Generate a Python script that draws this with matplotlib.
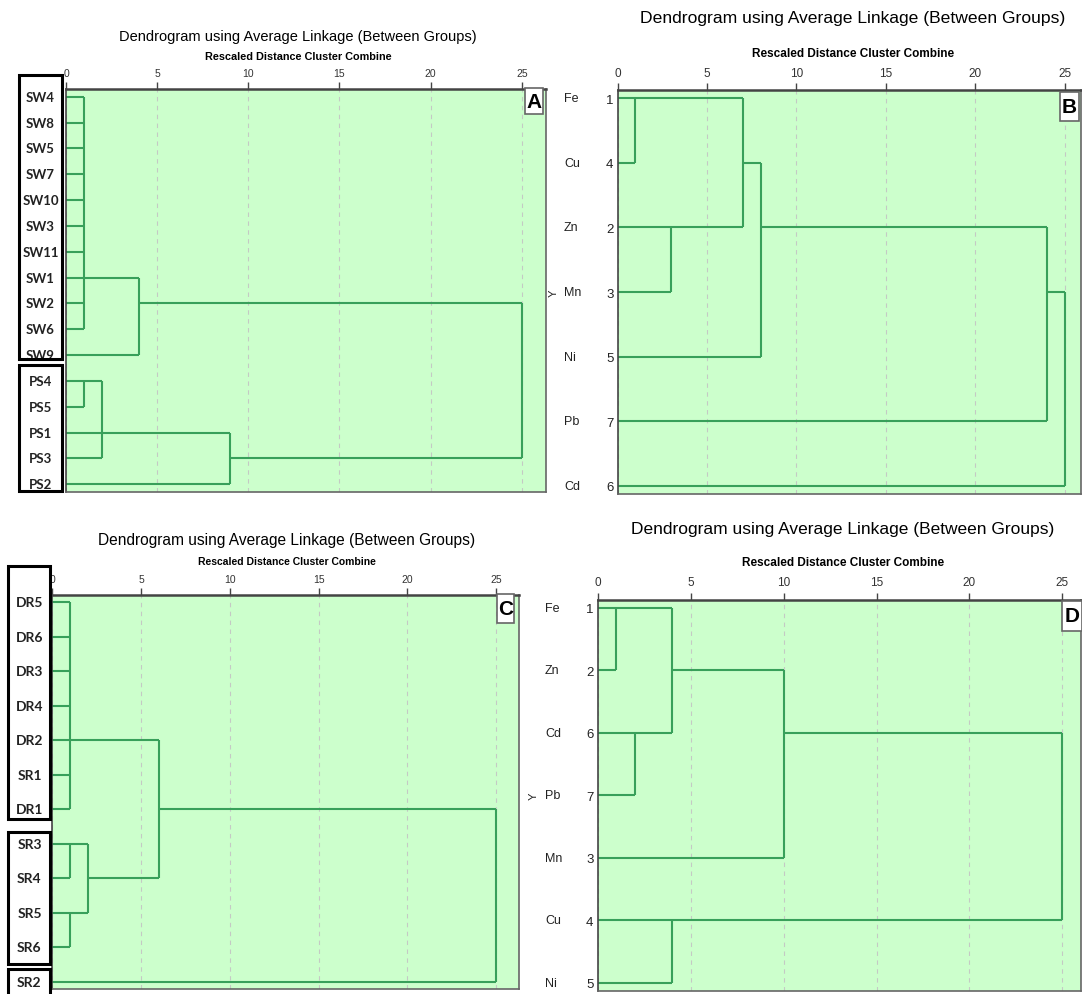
import matplotlib.pyplot as plt
from matplotlib.patches import Rectangle
from matplotlib.transforms import blended_transform_factory

W, H = 1082, 995
BG = '#ccffcc'
LINE = '#38a05a'
NARROW = ['Liberation Sans Narrow', 'Liberation Sans', 'DejaVu Sans']
SANS = ['Liberation Sans', 'DejaVu Sans']

ticks = [0, 5, 10, 15, 20, 25]
title = 'Dendrogram using Average Linkage (Between Groups)'
subtitle = 'Rescaled Distance Cluster Combine'

# panel A - samples SW / PS
a_leaves = ['SW4', 'SW8', 'SW5', 'SW7', 'SW10', 'SW3', 'SW11', 'SW1', 'SW2', 'SW6', 'SW9',
            'PS4', 'PS5', 'PS1', 'PS3', 'PS2']
a_children = [[0, 1, 2, 3, 4, 5, 6, 7, 8, 9], [16, 10], [11, 12], [18, 13, 14], [19, 15], [17, 20]]
a_dist = [1, 4, 1, 2, 9, 25]
a_outrow = [7, 8, 11, 13, 14, 11]

# panel B - metals
b_names = ['Fe', 'Cu', 'Zn', 'Mn', 'Ni', 'Pb', 'Cd']
b_nums = ['1', '4', '2', '3', '5', '7', '6']
b_children = [[0, 1], [2, 3], [7, 8], [9, 4], [10, 5], [11, 6]]
b_dist = [1, 3, 7, 8, 24, 25]
b_outrow = [0, 2, 1, 2, 3, 3]

# panel C - samples DR / SR
c_leaves = ['DR5', 'DR6', 'DR3', 'DR4', 'DR2', 'SR1', 'DR1', 'SR3', 'SR4', 'SR5', 'SR6', 'SR2']
c_children = [[0, 1, 2, 3, 4, 5, 6], [7, 8], [9, 10], [13, 14], [12, 15], [16, 11]]
c_dist = [1, 1, 1, 2, 6, 25]
c_outrow = [4, 7, 9, 8, 6, 6]

# panel D - metals
d_names = ['Fe', 'Zn', 'Cd', 'Pb', 'Mn', 'Cu', 'Ni']
d_nums = ['1', '2', '6', '7', '3', '4', '5']
d_children = [[0, 1], [2, 3], [7, 8], [9, 4], [5, 6], [10, 11]]
d_dist = [1, 2, 4, 10, 4, 25]
d_outrow = [0, 2, 1, 2, 5, 2]

fig = plt.figure(figsize=(W / 100, H / 100), dpi=100)


def fx(x):
    return x / W


def fy(y):
    return 1 - y / H


def px_axes(l, t, r, b):
    return fig.add_axes([fx(l), fy(b), (r - l) / W, (b - t) / H])


def fig_box(x0, y0, x1, y1, **kw):
    fig.add_artist(Rectangle((fx(x0), fy(y1)), (x1 - x0) / W, (y1 - y0) / H,
                             transform=fig.transFigure, **kw))


def draw_tree(ax, n, children, dist, outrow):
    h = [0.0] * n
    row = list(range(n))
    for ch, d, r in zip(children, dist, outrow):
        rows = [row[c] for c in ch]
        for c in ch:
            ax.hlines(row[c], h[c], d, color=LINE, lw=1.5)
        ax.vlines(d, min(rows), max(rows), color=LINE, lw=1.5)
        h.append(d)
        row.append(r)


def setup(ax, n, xmax, ypad_top, ypad_bot, tsize):
    ax.set_facecolor(BG)
    ax.set_xlim(0, xmax)
    ax.set_ylim(n - 1 + ypad_bot, -ypad_top)
    ax.set_xticks(ticks)
    ax.set_xticklabels([str(t) for t in ticks], family=NARROW)
    ax.tick_params(axis='x', top=True, labeltop=True, bottom=False, labelbottom=False,
                   direction='out', length=5, width=1, color='#444444', pad=3,
                   labelsize=tsize, labelcolor='#333333')
    ax.grid(axis='x', color='#c4c9c4', linestyle=(0, (4, 4)), lw=0.8)
    ax.set_axisbelow(True)
    for s in ax.spines.values():
        s.set_color('#666666')
        s.set_linewidth(1.2)
    ax.spines['top'].set_color('#444444')
    ax.spines['top'].set_linewidth(1.8)
    ax.spines['left'].set_color('#444444')


def heading(xc, yt, ts, ys, ss):
    fig.text(fx(xc), fy(yt), title, ha='center', va='center', fontsize=ts, family=SANS)
    fig.text(fx(xc), fy(ys), subtitle, ha='center', va='center', fontsize=ss,
             family=SANS, fontweight='bold')


def panel_letter(x0, y0, x1, y1, letter):
    fig_box(x0, y0, x1, y1, facecolor='white', edgecolor='#666666', lw=1.2, zorder=5)
    fig.text(fx((x0 + x1) / 2), fy((y0 + y1) / 2), letter, ha='center', va='center',
             fontsize=15, fontweight='bold', family=SANS, zorder=6)


# ---- A
axA = px_axes(66, 90, 546, 493)
setup(axA, len(a_leaves), 26.33, 0.3, 0.3, 7.5)
draw_tree(axA, len(a_leaves), a_children, a_dist, a_outrow)
axA.set_yticks([])
trA = blended_transform_factory(axA.transAxes, axA.transData)
for i, lab in enumerate(a_leaves):
    axA.text(-0.053, i, lab, transform=trA, ha='center', va='center',
             fontsize=9.5, fontweight='bold', family=['Lato', 'DejaVu Sans'], color='#222222')
heading(298, 37, 10.5, 57, 7.8)
fig_box(19, 76, 62, 360, fill=False, edgecolor='black', lw=2.2)
fig_box(19, 366, 62, 492, fill=False, edgecolor='black', lw=2.2)
panel_letter(525, 89, 543, 115, 'A')

# ---- B
axB = px_axes(617.5, 91, 1081, 495)
setup(axB, len(b_names), 25.9, 0.13, 0.13, 8.5)
draw_tree(axB, len(b_names), b_children, b_dist, b_outrow)
axB.set_yticks(range(len(b_nums)))
axB.set_yticklabels(b_nums, family=NARROW)
axB.tick_params(axis='y', length=0, pad=3, labelsize=9.5, labelcolor='#222222')
trB = blended_transform_factory(axB.transAxes, axB.transData)
for i, lab in enumerate(b_names):
    axB.text(-0.1154, i, lab, transform=trB, ha='left', va='center',
             fontsize=9, family=NARROW, color='#222222')
axB.text(-0.138, 0.5, 'Y', transform=axB.transAxes, rotation=90, ha='center', va='center',
         fontsize=8, family=SANS, color='#222222')
heading(853, 18, 12.6, 54, 8.5)
panel_letter(1060, 93, 1079, 122, 'B')

# ---- C
axC = px_axes(52.3, 596, 519.3, 990)
setup(axC, len(c_leaves), 26.3, 0.21, 0.21, 7.5)
draw_tree(axC, len(c_leaves), c_children, c_dist, c_outrow)
axC.set_yticks([])
trC = blended_transform_factory(axC.transAxes, axC.transData)
for i, lab in enumerate(c_leaves):
    axC.text(-0.049, i, lab, transform=trC, ha='center', va='center',
             fontsize=10, fontweight='bold', family=['Lato', 'DejaVu Sans'], color='#222222')
heading(287, 540, 11.2, 562, 7.5)
fig_box(7.6, 567, 50, 820, fill=False, edgecolor='black', lw=2.2)
fig_box(7.6, 833, 50, 965, fill=False, edgecolor='black', lw=2.2)
fig_box(7.6, 970, 50, 1000, fill=False, edgecolor='black', lw=2.2)
panel_letter(497, 595, 514, 624, 'C')

# ---- D
axD = px_axes(597.7, 600.5, 1081, 991.7)
setup(axD, len(d_names), 26.0, 0.13, 0.13, 8.5)
draw_tree(axD, len(d_names), d_children, d_dist, d_outrow)
axD.set_yticks(range(len(d_nums)))
axD.set_yticklabels(d_nums, family=NARROW)
axD.tick_params(axis='y', length=0, pad=3, labelsize=9.5, labelcolor='#222222')
trD = blended_transform_factory(axD.transAxes, axD.transData)
for i, lab in enumerate(d_names):
    axD.text(-0.109, i, lab, transform=trD, ha='left', va='center',
             fontsize=9, family=NARROW, color='#222222')
axD.text(-0.1318, 0.5, 'Y', transform=axD.transAxes, rotation=90, ha='center', va='center',
         fontsize=8, family=SANS, color='#222222')
heading(843, 530, 12.5, 563, 8.5)
panel_letter(1062, 602, 1082, 632, 'D')

fig.savefig('out.png', dpi=100)
